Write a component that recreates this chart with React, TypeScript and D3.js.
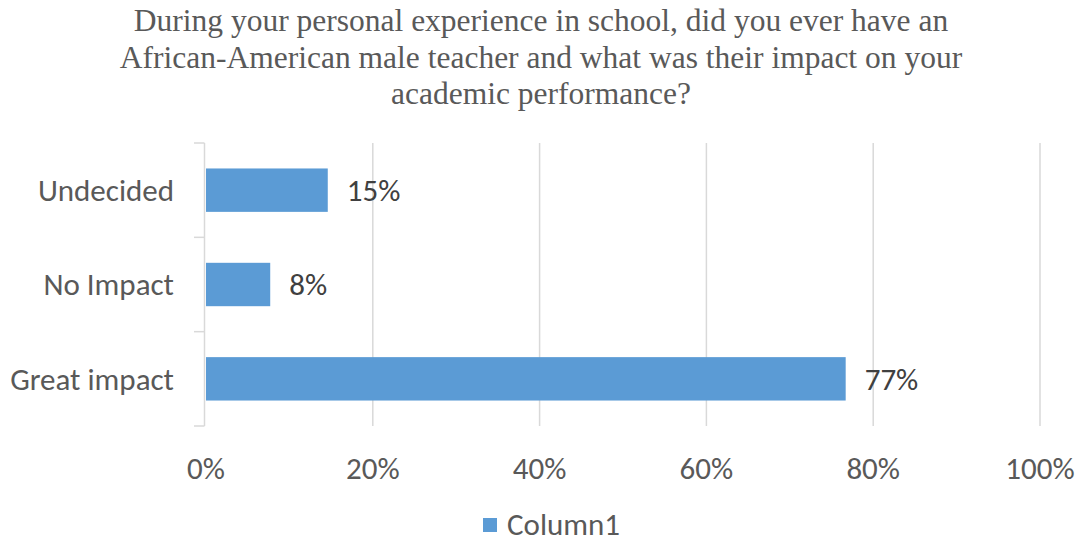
import React from "react";
import * as d3 from "d3";

const categories = ["Undecided", "No Impact", "Great impact"];
const values = [0.146, 0.077, 0.767];
const xTicks = [0, 0.2, 0.4, 0.6, 0.8, 1.0];
const seriesName = "Column1";
const titleLines = [
  "During your personal experience in school, did you ever have an",
  "African-American male teacher and what was their impact on your",
  "academic performance?",
];

const W = 1081;
const H = 544;
const M = { left: 206, right: 41, top: 143, bottom: 118 };

export default function App() {
  const x = d3.scaleLinear().domain([0, 1]).range([M.left, W - M.right]);
  const y = d3
    .scaleBand<string>()
    .domain(categories)
    .range([M.top, H - M.bottom])
    .paddingInner(0.54)
    .paddingOuter(0.27);
  const pct = d3.format(".0%");
  const axisFont = "Carlito, Calibri, Lato, sans-serif";
  const fs = 31;
  const ticksY = d3.range(categories.length + 1).map((i) => M.top + i * y.step());
  return (
    <svg width={W} height={H} style={{ position: "absolute", left: 0, top: 0 }}>
      <rect width={W} height={H} fill="#fff" />
      {titleLines.map((t, i) => (
        <text
          key={i}
          x={541}
          y={31 + i * 36.5}
          textAnchor="middle"
          fontFamily="'Liberation Serif', 'Times New Roman', serif"
          fontSize={31.5}
          fill="#595959"
        >
          {t}
        </text>
      ))}
      {xTicks.filter((t) => t > 0).map((t) => (
        <line key={t} x1={x(t)} x2={x(t)} y1={M.top} y2={H - M.bottom} stroke="#D9D9D9" strokeWidth={1.5} />
      ))}
      <line x1={M.left - 1.5} x2={M.left - 1.5} y1={M.top} y2={H - M.bottom} stroke="#D9D9D9" strokeWidth={1.5} />
      {ticksY.map((v, i) => (
        <line key={i} x1={M.left - 12} x2={M.left - 1.5} y1={v} y2={v} stroke="#D9D9D9" strokeWidth={1.5} />
      ))}
      {categories.map((c, i) => (
        <g key={c}>
          <rect x={x(0)} y={y(c)} width={x(values[i]) - x(0)} height={y.bandwidth()} fill="#5B9BD5" />
          <text
            x={M.left - 32}
            y={(y(c) as number) + y.bandwidth() / 2}
            dy="0.35em"
            textAnchor="end"
            fontFamily={axisFont}
            fontSize={fs}
            fill="#595959"
          >
            {c}
          </text>
          <text
            x={x(values[i]) + 19}
            y={(y(c) as number) + y.bandwidth() / 2}
            dy="0.35em"
            fontFamily={axisFont}
            fontSize={fs}
            fill="#404040"
          >
            {pct(values[i])}
          </text>
        </g>
      ))}
      {xTicks.map((t) => (
        <text
          key={t}
          x={x(t)}
          y={468}
          dy="0.35em"
          textAnchor="middle"
          fontFamily={axisFont}
          fontSize={fs}
          fill="#595959"
        >
          {pct(t)}
        </text>
      ))}
      <rect x={483} y={518} width={14} height={14} fill="#5B9BD5" />
      <text x={507} y={524} dy="0.35em" fontFamily={axisFont} fontSize={fs} fill="#595959">
        {seriesName}
      </text>
    </svg>
  );
}
